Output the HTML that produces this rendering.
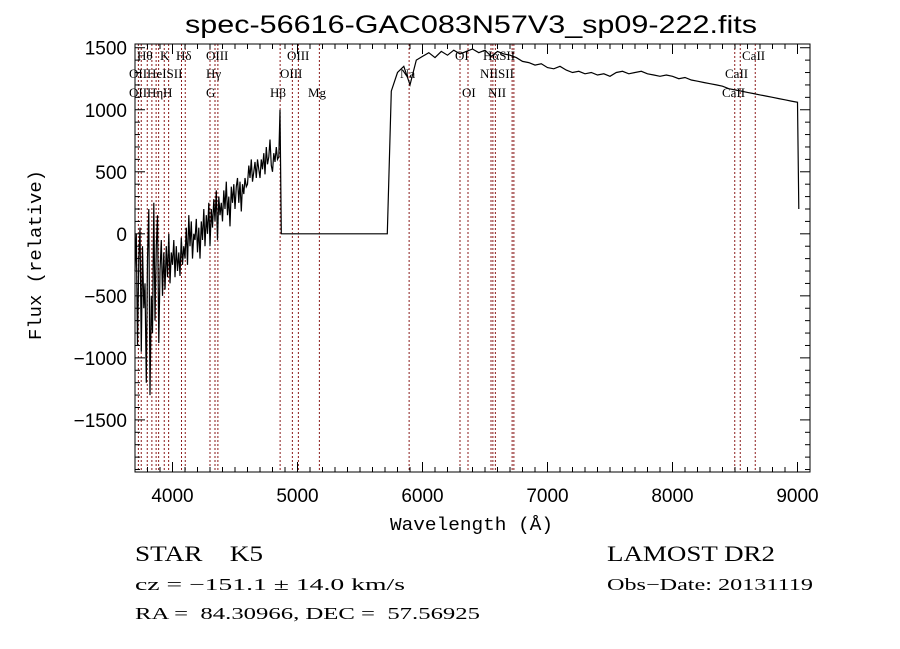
<!DOCTYPE html>
<html><head><meta charset="utf-8"><style>
html,body{margin:0;padding:0;background:#fff;}
svg{display:block;}
text{fill:#000;}
</style></head><body>
<svg id="chart" width="900" height="649" viewBox="0 0 900 649" xmlns="http://www.w3.org/2000/svg">
<rect width="900" height="649" fill="#fff"/>
<text x="185" y="33" font-family="Liberation Sans, sans-serif" font-size="25" textLength="572" lengthAdjust="spacingAndGlyphs">spec-56616-GAC083N57V3_sp09-222.fits</text>
<g id="lines"></g>
<g id="labels" font-family="Liberation Serif, serif" font-size="13"></g>
<g id="axes"></g>
<path id="spec" fill="none" stroke="#000" stroke-width="1.2"/>
<text x="390" y="530" font-family="Liberation Mono, monospace" font-size="18" textLength="163" lengthAdjust="spacingAndGlyphs">Wavelength (Å)</text>
<text transform="translate(41,340) rotate(-90)" font-family="Liberation Mono, monospace" font-size="18" textLength="170" lengthAdjust="spacingAndGlyphs">Flux (relative)</text>
<g font-family="Liberation Serif, serif">
<text x="135" y="561" font-size="22" textLength="128" lengthAdjust="spacingAndGlyphs" xml:space="preserve">STAR    K5</text>
<text x="607" y="561" font-size="22" textLength="168" lengthAdjust="spacingAndGlyphs">LAMOST DR2</text>
<text x="135" y="590" font-size="17" textLength="270" lengthAdjust="spacingAndGlyphs">cz = −151.1 ± 14.0 km/s</text>
<text x="607" y="590" font-size="17" textLength="206" lengthAdjust="spacingAndGlyphs">Obs−Date: 20131119</text>
<text x="135" y="619" font-size="17" textLength="345" lengthAdjust="spacingAndGlyphs" xml:space="preserve">RA =  84.30966, DEC =  57.56925</text>
</g>
</svg>
<script>
const xDomain = [3700, 9100];
const yDomain = [-1920, 1530];
const xTicks = [4000, 5000, 6000, 7000, 8000, 9000];
const yTicks = [-1500, -1000, -500, 0, 500, 1000, 1500];
const yTickLabels = ["\u22121500", "\u22121000", "\u2212500", "0", "500", "1000", "1500"];
const lineWaves = [3727, 3750, 3798, 3835, 3869, 3889, 3934, 3969, 4072, 4102, 4300, 4340, 4363, 4861, 4959, 5007, 5175, 5893, 6300, 6364, 6548, 6563, 6583, 6717, 6731, 8498, 8542, 8662];
const blueStart = 3700, blueStep = 10;
const blueFlux = [-300,0,-900,-200,50,-950,-100,-600,-400,-1200,
-200,200,-1300,-500,-800,250,-700,-100,150,-880,
-300,-50,-500,-150,-450,-100,-350,0,-400,-150,
-250,-50,-350,-100,-300,-150,-340,-30,-250,-100,
-200,50,-250,150,-100,100,-200,0,-50,120,
-150,50,-200,100,-50,200,-100,150,0,250,
-100,200,50,280,100,350,-50,300,150,250,
100,350,200,420,150,300,60,380,250,400,
200,380,450,250,420,180,400,320,450,380,
400,550,450,600,420,500,580,450,600,520,
450,600,520,650,480,700,560,620,760,550,
500,650,580,700,600,620,1000];
const gapWaves = [4870, 5718];
const gapFlux = [0, 0];
const redStart = 5750, redStep = 50;
const redFlux = [1150,1300,1350,1200,1400,1430,1460,1420,1470,1440,1480,1450,1470,1490,1460,1480,1430,1470,1450,1440,
1420,1390,1380,1360,1370,1340,1330,1350,1320,1300,1310,1290,1300,1280,1290,1270,1300,1310,1290,1300,
1310,1290,1280,1270,1280,1270,1250,1260,1240,1230,1220,1210,1200,1190,1170,1160,1150,1140,1130,1120,
1110,1100,1090,1080,1070,1060];
const tailWaves = [9010];
const tailFlux = [200];
const labelRows = [
 [["Hθ",137],["K",160],["Hδ",176],["OIII",206],["OIII",287],["OI",455],["HαSII",483],["CaII",742]],
 [["OIIHeISII",129],["Hγ",206],["OIII",280],["Na",400],["NIISII",480],["CaII",725]],
 [["OIIHη",129],["H",163],["G",206],["Hβ",270],["Mg",308],["OI",462],["NII",488],["CaII",722]]
];
const L=135,R=810,T=44,B=472;
const NS='http://www.w3.org/2000/svg';
function sx(v){return L+(v-xDomain[0])/(xDomain[1]-xDomain[0])*(R-L);}
function sy(v){return B-(v-yDomain[0])/(yDomain[1]-yDomain[0])*(B-T);}
function mk(tag,attrs,parent){const e=document.createElementNS(NS,tag);for(const k in attrs)e.setAttribute(k,attrs[k]);parent.appendChild(e);return e;}
const lines=document.getElementById('lines');
lineWaves.forEach(w=>{const e=mk('line',{x1:sx(w),x2:sx(w),y1:T,y2:B,stroke:'#8b1a1a','stroke-width':1,'stroke-dasharray':'2,2'},lines);

});
const labs=document.getElementById('labels');
const rowY=[60,78,97];
labelRows.forEach((row,i)=>row.forEach(([t,x])=>{const e=mk('text',{x:x,y:rowY[i]},labs);e.textContent=t;

}));
const ax=document.getElementById('axes');
mk('rect',{x:L,y:T,width:R-L,height:B-T,fill:'none',stroke:'#000','stroke-width':1},ax);
for(let v=3700;v<=9100;v+=100){const x=sx(v);const maj=v%1000===0;const len=maj?10:5;
mk('line',{x1:x,x2:x,y1:B,y2:B-len,stroke:'#000'},ax);mk('line',{x1:x,x2:x,y1:T,y2:T+len,stroke:'#000'},ax);}
for(let v=-1900;v<=1500;v+=100){const y=sy(v);const maj=v%500===0;const len=maj?10:5;
mk('line',{x1:L,x2:L+len,y1:y,y2:y,stroke:'#000'},ax);mk('line',{x1:R,x2:R-len,y1:y,y2:y,stroke:'#000'},ax);}
xTicks.forEach(v=>{const e=mk('text',{x:sx(v),y:502,'text-anchor':'middle','font-family':'Liberation Sans, sans-serif','font-size':19},ax);e.textContent=v;

});
yTicks.forEach((v,i)=>{const e=mk('text',{x:127,y:sy(v)+7,'text-anchor':'end','font-family':'Liberation Sans, sans-serif','font-size':19},ax);e.textContent=yTickLabels[i];

});
const pts=[];
blueFlux.forEach((f,i)=>pts.push([blueStart+i*blueStep,f]));
gapWaves.forEach((w,i)=>pts.push([w,gapFlux[i]]));
redFlux.forEach((f,i)=>pts.push([redStart+i*redStep,f]));
tailWaves.forEach((w,i)=>pts.push([w,tailFlux[i]]));
document.getElementById('spec').setAttribute('d',pts.map((p,i)=>(i?'L':'M')+sx(p[0]).toFixed(1)+','+sy(p[1]).toFixed(1)).join(''));
</script>
</body></html>
